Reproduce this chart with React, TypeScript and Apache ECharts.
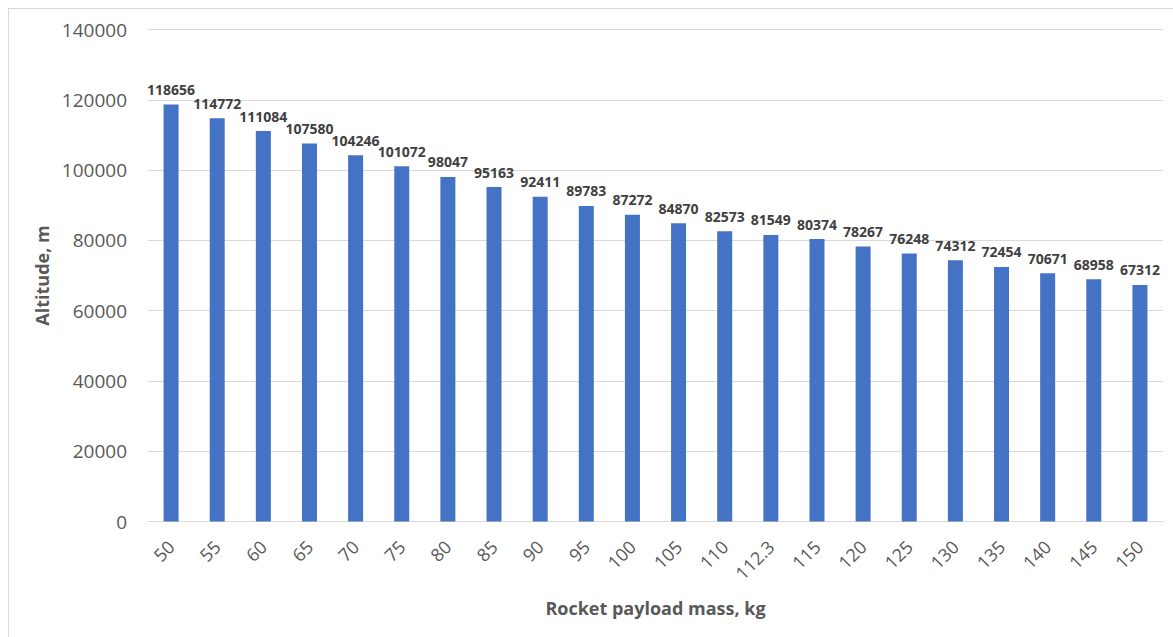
import React, { useEffect, useRef } from "react";
import * as echarts from "echarts";

// Payload mass categories (kg) and reached altitude (m)
const payloadMass: string[] = [
  "50", "55", "60", "65", "70", "75", "80", "85", "90", "95", "100",
  "105", "110", "112.3", "115", "120", "125", "130", "135", "140", "145", "150",
];
const altitude: number[] = [
  118656, 114772, 111084, 107580, 104246, 101072, 98047, 95163, 92411, 89783, 87272,
  84870, 82573, 81549, 80374, 78267, 76248, 74312, 72454, 70671, 68958, 67312,
];

const FONT = "'Open Sans', 'Liberation Sans', sans-serif";

export default function App() {
  const ref = useRef<HTMLDivElement>(null);

  useEffect(() => {
    if (!ref.current) return;
    const chart = echarts.init(ref.current, null, { renderer: "svg" });
    chart.setOption({
      animation: false,
      backgroundColor: "#ffffff",
      textStyle: { fontFamily: FONT },
      grid: { left: 139, right: 10, top: 20.5, bottom: 115.5, containLabel: false },
      xAxis: {
        type: "category",
        data: payloadMass,
        name: "Rocket payload mass, kg",
        nameLocation: "middle",
        nameGap: 77,
        nameTextStyle: { fontFamily: FONT, fontSize: 18, fontWeight: "bold", color: "#595959" },
        axisLine: { show: true, lineStyle: { color: "#d9d9d9", width: 1 } },
        axisTick: { show: false },
        axisLabel: {
          interval: 0,
          rotate: 45,
          margin: 22,
          fontFamily: FONT,
          fontSize: 18,
          color: "#595959",
        },
      },
      yAxis: {
        type: "value",
        min: 0,
        max: 140000,
        interval: 20000,
        name: "Altitude, m",
        nameLocation: "middle",
        nameGap: 95,
        nameRotate: 90,
        nameTextStyle: { fontFamily: FONT, fontSize: 18, fontWeight: "bold", color: "#595959" },
        axisLine: { show: false },
        axisTick: { show: false },
        axisLabel: {
          margin: 21,
          fontFamily: FONT,
          fontSize: 19,
          color: "#595959",
          formatter: (v: number) => String(v),
        },
        splitLine: { lineStyle: { color: "#d9d9d9", width: 1 } },
      },
      series: [
        {
          type: "bar",
          data: altitude,
          barWidth: 15,
          itemStyle: { color: "#4472c4" },
          label: {
            show: true,
            position: "top",
            distance: 8,
            fontFamily: FONT,
            fontSize: 14,
            fontWeight: "bold",
            color: "#404040",
          },
        },
      ],
    });
    return () => chart.dispose();
  }, []);

  return (
    <div style={{ position: "fixed", inset: 0, overflow: "hidden", background: "#ffffff" }}>
      <div
        ref={ref}
        style={{
          position: "absolute",
          left: 8,
          top: 8,
          width: 1165,
          height: 629,
          boxSizing: "border-box",
          borderTop: "1px solid #d9d9d9",
          borderLeft: "1px solid #d9d9d9",
        }}
      />
    </div>
  );
}
